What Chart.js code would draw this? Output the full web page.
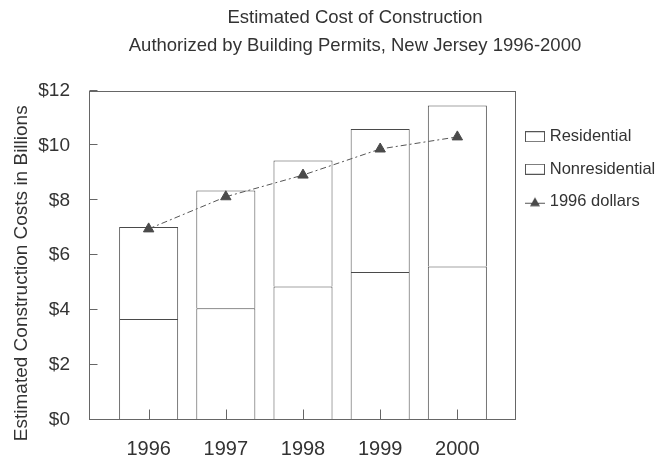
<!DOCTYPE html>
<html><head><meta charset="utf-8">
<script src="https://cdn.jsdelivr.net/npm/chart.js@4/dist/chart.umd.min.js"></script>
<style>html,body{margin:0;padding:0;background:#fff}#wrap{width:658px;height:458px}</style>
</head><body><div id="wrap"><canvas id="c" width="658" height="458"></canvas></div>
<script>
const years = ['1996', '1997', '1998', '1999', '2000'];
const nonresidential = [3.68, 4.07, 4.86, 5.39, 5.59];
const residential = [3.35, 4.29, 4.59, 5.21, 5.86];
const dollars1996 = [6.96, 8.13, 8.92, 9.87, 10.31];
const yTickValues = [0, 2, 4, 6, 8, 10, 12];
const titleLines = ['Estimated Cost of Construction', 'Authorized by Building Permits, New Jersey 1996-2000'];
const yTitle = 'Estimated Construction Costs in Billions';
const legendOrder = ['Residential', 'Nonresidential', '1996 dollars'];

const TEXT = '#333333';
const EDGE = '#4a4a4a';
const MARK = '#4a4a4a';

Chart.defaults.font.family = '"Liberation Sans", Arial, sans-serif';
Chart.defaults.color = TEXT;

function boxGlyph() {
  const c = document.createElement('canvas'); c.width = 20; c.height = 11;
  const g = c.getContext('2d');
  g.fillStyle = '#fff'; g.fillRect(0, 0, 20, 11);
  g.strokeStyle = '#555'; g.lineWidth = 1; g.strokeRect(0.5, 0.5, 19, 10);
  return c;
}
function lineGlyph() {
  const c = document.createElement('canvas'); c.width = 20; c.height = 12;
  const g = c.getContext('2d');
  g.strokeStyle = '#555'; g.lineWidth = 1;
  g.beginPath(); g.moveTo(0, 7.5); g.lineTo(20, 7.5); g.stroke();
  g.fillStyle = MARK; g.beginPath(); g.moveTo(10, 1.5); g.lineTo(15, 10.5); g.lineTo(5, 10.5); g.closePath(); g.fill();
  return c;
}
const glyphs = { 'Residential': boxGlyph(), 'Nonresidential': boxGlyph(), '1996 dollars': lineGlyph() };

const toPoints = arr => arr.map((v, i) => ({ x: i + 1, y: v }));

const layoutNudge = {
  id: 'layoutNudge',
  afterLayout(chart) {
    const lg = chart.legend;
    if (lg) { lg.left -= 3.5; lg.right -= 3.5; lg.top += 22; lg.bottom += 22; }
    const ys = chart.scales.y; ys.top += 18; ys.bottom += 18;
    if (chart.titleBlock) chart.titleBlock.left = 52;
  }
};

const frame = {
  id: 'frame',
  afterDatasetsDraw(chart) {
    const { ctx, chartArea: a, scales: { x, y } } = chart;
    ctx.save();
    ctx.strokeStyle = '#666'; ctx.lineWidth = 1;
    const L = Math.round(a.left) - 0.5, R = Math.round(a.right) - 0.5, T = Math.round(a.top) + 0.5, B = Math.round(a.bottom) - 0.5;
    ctx.strokeRect(L, T, R - L, B - T);
    ctx.beginPath();
    yTickValues.forEach(v => { const py = Math.round(y.getPixelForValue(v)) - 0.5; ctx.moveTo(L, py); ctx.lineTo(L + 8, py); });
    years.forEach((_, i) => { const px = Math.round(x.getPixelForValue(i + 1)) + 0.5; ctx.moveTo(px, B); ctx.lineTo(px, B - 10); });
    ctx.stroke();
    ctx.restore();
  }
};

new Chart(document.getElementById('c'), {
  type: 'bar',
  data: {
    datasets: [
      {
        type: 'line', label: '1996 dollars', data: toPoints(dollars1996), stack: 'line', clip: false,
        borderColor: '#555', borderWidth: 1, borderDash: [6, 3, 2, 3], fill: false, tension: 0,
        pointStyle: 'triangle', pointRadius: 6, pointBackgroundColor: MARK, pointBorderColor: MARK, pointBorderWidth: 1
      },
      {
        label: 'Nonresidential', data: toPoints(nonresidential), clip: false,
        backgroundColor: '#ffffff', borderColor: EDGE, borderWidth: 1,
        categoryPercentage: 1, barPercentage: 0.765
      },
      {
        label: 'Residential', data: toPoints(residential), clip: false,
        backgroundColor: '#ffffff', borderColor: EDGE, borderWidth: 1,
        categoryPercentage: 1, barPercentage: 0.765
      }
    ]
  },
  options: {
    responsive: false,
    animation: false,
    devicePixelRatio: 1,
    layout: { padding: 0 },
    scales: {
      x: {
        type: 'linear', min: 0.24, max: 5.76, offset: false, stacked: true,
        grid: { display: false }, border: { display: false },
        ticks: {
          stepSize: 1, includeBounds: false, autoSkip: false, maxRotation: 0, padding: 9,
          font: { size: 20 }, color: TEXT,
          callback: v => (Math.abs(v - Math.round(v)) < 1e-6 ? (years[Math.round(v) - 1] ?? '') : '')
        },
        afterFit: s => { s.height = 38; }
      },
      y: {
        min: 0, max: 12, stacked: true,
        grid: { display: false }, border: { display: false },
        ticks: { stepSize: 2, padding: 12, font: { size: 19 }, color: TEXT, callback: v => '$' + v },
        title: { display: true, text: yTitle, font: { size: 19 }, color: TEXT, padding: { top: 10, bottom: 0 } },
        afterFit: s => { s.width = 90; }
      }
    },
    plugins: {
      title: {
        display: true, text: titleLines, color: TEXT,
        font: { size: 18.5, weight: 'normal', lineHeight: 1.5 },
        padding: { top: 4, bottom: 31 }
      },
      legend: {
        position: 'right', align: 'start', fullSize: false, maxWidth: 142,
        labels: {
          usePointStyle: true, pointStyleWidth: 13, padding: 16, color: TEXT,
          font: { size: 16.5 },
          sort: (a, b) => legendOrder.indexOf(a.text) - legendOrder.indexOf(b.text),
          generateLabels(chart) {
            const items = Chart.defaults.plugins.legend.labels.generateLabels(chart);
            items.forEach(it => { it.pointStyle = glyphs[it.text]; });
            return items;
          }
        }
      },
      tooltip: { enabled: false }
    }
  },
  plugins: [layoutNudge, frame]
});
</script>
</body></html>
